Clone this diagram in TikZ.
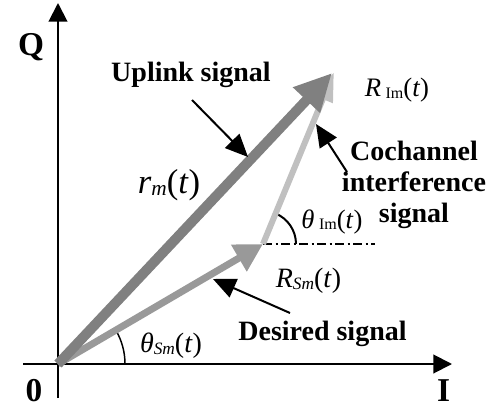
\documentclass[tikz,border=0pt]{standalone}
\usepackage{fontspec}
\setmainfont{Liberation Serif}
\usetikzlibrary{arrows.meta}
\definecolor{uplc}{RGB}{128,128,128}
\definecolor{desc}{RGB}{153,153,153}
\definecolor{intc}{RGB}{192,192,192}
\begin{document}
\begin{tikzpicture}[x=0.75pt,y=-0.75pt,
  axis/.style={line width=1.5pt,-{Triangle[length=14pt,width=14pt]}},
  pointer/.style={line width=1.5pt,-{Triangle[length=17pt,width=15pt]}},
  blbl/.style={font=\fontsize{21}{23}\selectfont\bfseries,inner sep=0pt},
  axlbl/.style={font=\fontsize{25}{28}\selectfont\bfseries,inner sep=0pt},
  mlbl/.style={inner sep=0pt},
  uplvec/.style={line width=7.5pt,color=uplc,-{Triangle[length=28pt,width=26pt]}},
  desvec/.style={line width=5.25pt,color=desc,-{Triangle[length=21pt,width=22pt]}},
  intvec/.style={line width=4.5pt,color=intc,-{Triangle[length=22pt,width=15pt]}},
  anglearc/.style={line width=1.5pt},
  dashdot/.style={line width=1.1pt,dash pattern=on 7pt off 2.5pt on 1.5pt off 2.5pt}]
\path[use as bounding box] (0,0) rectangle (496,410);
% coordinates
\coordinate (O) at (58,364);
\coordinate (ybot) at (58,398);
\coordinate (ytop) at (58,3);
\coordinate (xleft) at (23,364);
\coordinate (xright) at (452,364);
\coordinate (S) at (263,244);
\coordinate (T) at (332,73);
\coordinate (Ti) at (334,72);
\coordinate (D) at (375,244);
% axes
\draw[axis] (ybot) -- (ytop);
\draw[axis] (xleft) -- (xright);
% dash-dot reference line
\draw[dashdot] (S) -- (D);
% angle arcs
\draw[anglearc,line width=1.1pt] (O) ++(67,0) arc[start angle=0,end angle=-30.3,radius=67];
\draw[anglearc] (S) ++(33,0) arc[start angle=0,end angle=-67.7,radius=33];
% vectors
\draw[desvec] (O) -- (S);
\draw[intvec] (S) -- (Ti);
\draw[uplvec] (O) -- (T);
% pointers
\coordinate (p1s) at (192,100); \coordinate (p1e) at (248,157);
\coordinate (p2s) at (347,172); \coordinate (p2e) at (316,124);
\coordinate (p3s) at (290,313); \coordinate (p3e) at (213,279);
\draw[pointer] (p1s) -- (p1e);
\draw[pointer] (p2s) -- (p2e);
\draw[pointer] (p3s) -- (p3e);
% text labels
\node[blbl,anchor=base] (uplink) at (191,82) {Uplink signal};
\node[blbl,anchor=north,align=center] (cochan) at (414,141) {Cochannel\\interference\\signal};
\node[blbl,anchor=base] (desired) at (322.5,340) {Desired signal};
\node[axlbl,anchor=base] (Q) at (31,56) {Q};
\node[axlbl,anchor=base] (zero) at (34,401) {0};
\node[axlbl,anchor=base] (I) at (443.5,401) {I};
\node[mlbl,anchor=base] (rm) at (169,193) {\fontsize{26}{29}\selectfont\textit{r}\raisebox{-2pt}{\fontsize{16}{18}\selectfont\textit{m}}(\textit{t})};
\node[mlbl,anchor=base] (RIm) at (397,97) {\fontsize{20}{23}\selectfont\textit{R}\,\raisebox{-1pt}{\fontsize{12}{14}\selectfont Im}(\textit{t})};
\node[mlbl,anchor=base] (thIm) at (332,228) {\fontsize{20}{23}\selectfont\textit{θ}\,\raisebox{-1pt}{\fontsize{12}{14}\selectfont Im}(\textit{t})};
\node[mlbl,anchor=base] (RSm) at (308.5,287) {\fontsize{21}{24}\selectfont\textit{R}\raisebox{-2pt}{\fontsize{13}{15}\selectfont\textit{Sm}}(\textit{t})};
\node[mlbl,anchor=base] (thSm) at (171,352) {\fontsize{21}{24}\selectfont\textit{θ}\raisebox{-2pt}{\fontsize{13}{15}\selectfont\textit{Sm}}(\textit{t})};
\end{tikzpicture}
\end{document}
